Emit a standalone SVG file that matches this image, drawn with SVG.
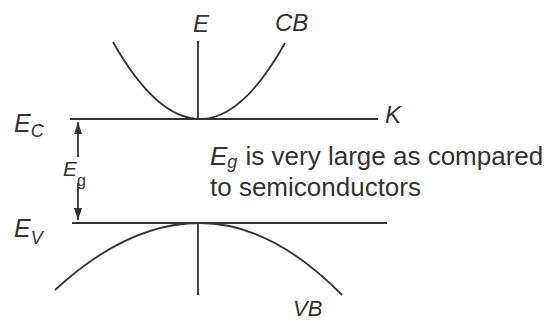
<svg xmlns="http://www.w3.org/2000/svg" width="553" height="321" viewBox="0 0 553 321">
<style>
.ln{stroke:#333;stroke-width:1.8;fill:none}
.t{font-family:"Liberation Sans",Arial,sans-serif;fill:#333}
.it{font-style:italic}
</style>
<defs>
<marker id="ah" markerWidth="12" markerHeight="8" refX="12" refY="4" orient="auto" markerUnits="userSpaceOnUse" viewBox="0 0 12 8">
<path d="M0,0 L12,4 L0,8 Z" fill="#333"/>
</marker>
</defs>
<rect width="553" height="321" fill="#fff"/>
<g id="connectors">
<line class="ln" x1="70" y1="119" x2="378" y2="119"/>
<line class="ln" x1="72" y1="223" x2="387" y2="223"/>
<line class="ln" x1="198" y1="41" x2="198" y2="119"/>
<line class="ln" x1="198" y1="223" x2="198" y2="295"/>
<path class="ln" d="M113,42 Q156.5,119 200,119 Q242.5,119 285,43"/>
<path class="ln" d="M55,290 Q127.5,223 200,223 Q271,223 342,295"/>
<line class="ln" x1="78" y1="157" x2="78" y2="122" marker-end="url(#ah)"/>
<line class="ln" x1="78" y1="183" x2="78" y2="220" marker-end="url(#ah)"/>
</g>
<g id="label-E"><text class="t it" x="201" y="32" font-size="24" text-anchor="middle">E</text></g>
<g id="label-CB"><text class="t it" x="275" y="31" font-size="24">CB</text></g>
<g id="label-K"><text class="t it" x="385" y="123" font-size="24">K</text></g>
<g id="label-EC"><text class="t it" x="14" y="132" font-size="25">E<tspan font-size="18" dy="5">C</tspan></text></g>
<g id="label-EV"><text class="t it" x="14" y="237" font-size="25">E<tspan font-size="18" dy="7">V</tspan></text></g>
<g id="label-Eg"><text class="t it" x="63" y="176" font-size="21">E<tspan font-style="normal" font-size="16" dy="10">g</tspan></text></g>
<g id="note">
<text class="t" x="210" y="165" font-size="26"><tspan class="it">E</tspan><tspan class="it" font-size="18" dy="3">g</tspan><tspan dx="1" dy="-3"> is very large as compared</tspan></text>
<text class="t" x="210" y="196" font-size="26">to semiconductors</text>
</g>
<g id="label-VB"><text class="t it" x="293" y="316" font-size="22">VB</text></g>
</svg>
